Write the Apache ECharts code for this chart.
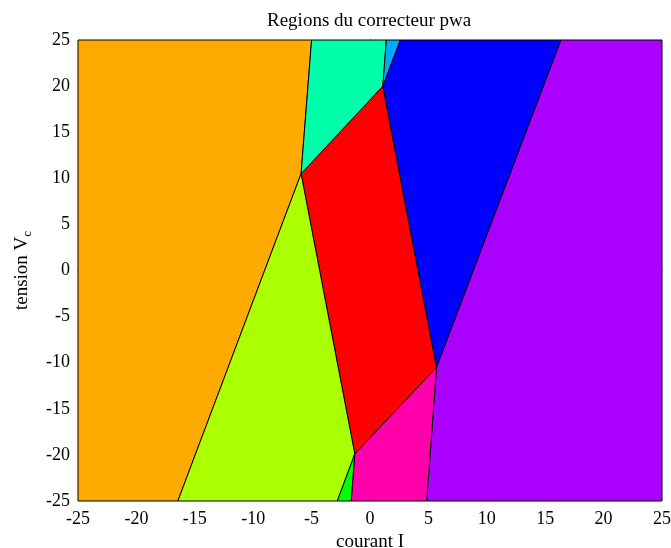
<!DOCTYPE html>
<html>
<head>
<meta charset="utf-8">
<script src="https://cdn.jsdelivr.net/npm/echarts@6/dist/echarts.min.js"></script>
<style>html,body{margin:0;padding:0;background:#fff;}#c{width:671px;height:548px;}</style>
</head>
<body>
<div id="c"></div>
<script>
var titleText = 'Regions du correcteur pwa';
var xName = 'courant I';
var xTicks = [-25, -20, -15, -10, -5, 0, 5, 10, 15, 20, 25];
var yTicks = [-25, -20, -15, -10, -5, 0, 5, 10, 15, 20, 25];

var regionOrange = [[-25, 25], [-5.0, 25], [-5.9, 10.5], [-16.45, -25], [-25, -25]];
var regionLime = [[-5.9, 10.5], [-1.3, -19.9], [-2.8, -25], [-16.45, -25]];
var regionGreen = [[-2.8, -25], [-1.6, -25], [-1.3, -19.9]];
var regionRed = [[-5.9, 10.5], [1.1, 20.0], [5.7, -10.5], [-1.3, -19.9]];
var regionPink = [[-1.3, -19.9], [5.7, -10.5], [4.85, -25], [-1.6, -25]];
var regionPurple = [[5.7, -10.5], [16.35, 25], [25, 25], [25, -25], [4.85, -25]];
var regionBlue = [[1.1, 20.0], [2.6, 25], [16.35, 25], [5.7, -10.5]];
var regionLightBlue = [[1.1, 20.0], [1.4, 25], [2.6, 25]];
var regionCyan = [[-5.0, 25], [1.4, 25], [1.1, 20.0], [-5.9, 10.5]];

var regions = [regionRed, regionOrange, regionLime, regionGreen, regionCyan, regionLightBlue, regionBlue, regionPurple, regionPink];
var colors = ['#FF0000', '#FFAA00', '#AAFF00', '#00FF00', '#00FFAA', '#00AAFF', '#0000FF', '#AA00FF', '#FF00AA'];

var chart = echarts.init(document.getElementById('c'));
var font = 'Liberation Serif, Times New Roman, serif';

var series = regions.map(function (pts, i) {
  return {
    type: 'custom',
    coordinateSystem: 'cartesian2d',
    xAxisIndex: 0, yAxisIndex: 0,
    data: [0],
    silent: true,
    renderItem: function (params, api) {
      var p = pts.map(function (v) { return api.coord(v); });
      return {
        type: 'polygon',
        shape: { points: p },
        style: { fill: colors[i], stroke: '#000', lineWidth: 1 }
      };
    }
  };
});

chart.setOption({
  animation: false,
  backgroundColor: '#fff',
  title: {
    text: titleText, left: 262, top: 7,
    textStyle: { fontFamily: font, fontSize: 19, fontWeight: 'normal', color: '#000' }
  },
  grid: { left: 78, right: 9, top: 40, bottom: 47, containLabel: false, outerBoundsMode: 'none' },
  xAxis: [{
    type: 'value', min: -25, max: 25, interval: 5,
    name: xName, nameLocation: 'middle', nameGap: 26,
    nameTextStyle: { fontFamily: font, fontSize: 19, color: '#000' },
    axisLine: { show: true, lineStyle: { color: '#000', width: 1 } },
    axisTick: { show: false },
    splitLine: { show: false },
    axisLabel: { fontFamily: font, fontSize: 18, color: '#000', margin: 9,
      formatter: function (v) { return xTicks.indexOf(v) >= 0 ? String(v) : ''; } }
  }, {
    type: 'value', min: -25, max: 25, position: 'top',
    axisLine: { show: true, lineStyle: { color: '#999', type: 'dashed', width: 1 } },
    axisTick: { show: false }, axisLabel: { show: false }, splitLine: { show: false }
  }],
  yAxis: [{
    type: 'value', min: -25, max: 25, interval: 5,
    name: '{a|tension V}{s|c}', nameLocation: 'middle', nameGap: 44, nameRotate: 90,
    nameTextStyle: { fontFamily: font, fontSize: 19, color: '#000',
      rich: { a: { fontFamily: font, fontSize: 19, color: '#000' },
              s: { fontFamily: font, fontSize: 13, color: '#000', padding: [10, 0, 0, 0] } } },
    axisLine: { show: true, lineStyle: { color: '#000', width: 1 } },
    axisTick: { show: false },
    splitLine: { show: false },
    axisLabel: { fontFamily: font, fontSize: 18, color: '#000', margin: 8,
      formatter: function (v) { return yTicks.indexOf(v) >= 0 ? String(v) : ''; } }
  }, {
    type: 'value', min: -25, max: 25, position: 'right',
    axisLine: { show: true, lineStyle: { color: '#999', type: 'dashed', width: 1 } },
    axisTick: { show: false }, axisLabel: { show: false }, splitLine: { show: false }
  }],
  series: series
});
</script>
</body>
</html>
